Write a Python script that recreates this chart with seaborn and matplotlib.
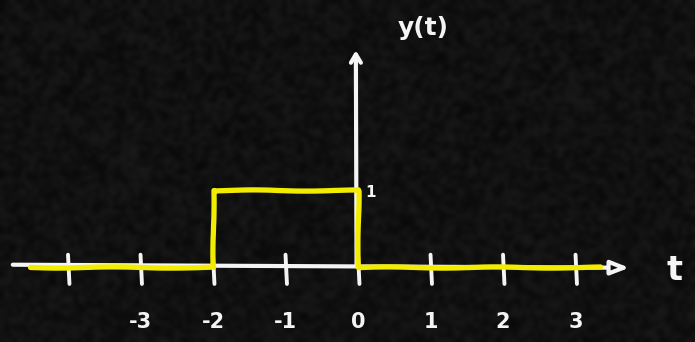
import numpy as np
import pandas as pd
import matplotlib
matplotlib.use("Agg")
import matplotlib.pyplot as plt
from matplotlib.colors import LinearSegmentedColormap
import seaborn as sns

# Rectangular pulse y(t): 1 on [-2, 0], 0 elsewhere
t_signal = [-4.52, -2.0, -2.0, 0.0, 0.0, 3.34]
y_signal = [0.0, 0.0, 1.0, 1.0, 0.0, 0.0]

# Time-axis ticks and their labels
tick_values = [-4, -3, -2, -1, 0, 1, 2, 3]
tick_labels = ["", "-3", "-2", "-1", "0", "1", "2", "3"]

sns.set_theme(style="dark")
plt.rcParams["font.family"] = ["DejaVu Sans"]

BOARD = "#0c0c0c"
CHALK = "#f4f4f4"
YELLOW = "#f2ec00"

XLIM = (-4.938, 4.648)
YLIM = (-0.974, 3.468)

fig = plt.figure(figsize=(6.95, 3.42), dpi=100, facecolor=BOARD)
ax = fig.add_axes([0, 0, 1, 1])
ax.set_facecolor(BOARD)
ax.set_axis_off()

# faint chalk dust on the board
rng = np.random.default_rng(3)
dust = rng.random((80, 160))
dust_cmap = LinearSegmentedColormap.from_list("dust", ["#080808", "#1a1a1a"])
ax.imshow(dust, extent=(*XLIM, *YLIM), cmap=dust_cmap, aspect="auto",
          zorder=0, interpolation="bicubic")

# horizontal time axis with arrow head
ax.annotate("", xy=(3.78, -0.01), xytext=(-4.8, 0.03),
            arrowprops=dict(arrowstyle="-|>,head_length=0.9,head_width=0.35",
                            color=CHALK, lw=3.0, fc=BOARD, ec=CHALK),
            zorder=2)
# vertical amplitude axis with arrow head
ax.annotate("", xy=(-0.03, 2.85), xytext=(-0.02, 0.0),
            arrowprops=dict(arrowstyle="->,head_length=0.5,head_width=0.3",
                            color=CHALK, lw=3.0),
            zorder=2)

# tick marks and labels
for tv, lab in zip(tick_values, tick_labels):
    ax.plot([tv, tv + 0.02], [0.16, -0.22], color=CHALK, lw=2.8,
            solid_capstyle="round", zorder=2)
    if lab:
        ax.text(tv, -0.72, lab, color=CHALK, fontsize=15, fontweight="bold",
                ha="center", va="center", zorder=3)

ax.text(0.17, 0.97, "1", color=CHALK, fontsize=11, fontweight="bold",
        ha="center", va="center", zorder=3)
ax.text(0.9, 3.1, "y(t)", color=CHALK, fontsize=18, fontweight="bold",
        ha="center", va="center", zorder=3)
ax.text(4.36, -0.04, "t", color=CHALK, fontsize=24, fontweight="bold",
        ha="center", va="center", zorder=3)

# the pulse itself
df = pd.DataFrame({"t": t_signal, "y": y_signal})
sns.lineplot(data=df, x="t", y="y", sort=False, estimator=None, ax=ax,
             color=YELLOW, lw=3.8, zorder=4)
pulse = ax.lines[-1]
pulse.set_sketch_params(scale=0.6, length=120, randomness=2)
pulse.set_solid_joinstyle("round")
pulse.set_solid_capstyle("round")

ax.set_xlim(*XLIM)
ax.set_ylim(*YLIM)
ax.set_xlabel("")
ax.set_ylabel("")

fig.savefig("out.png", dpi=100, facecolor=BOARD)
